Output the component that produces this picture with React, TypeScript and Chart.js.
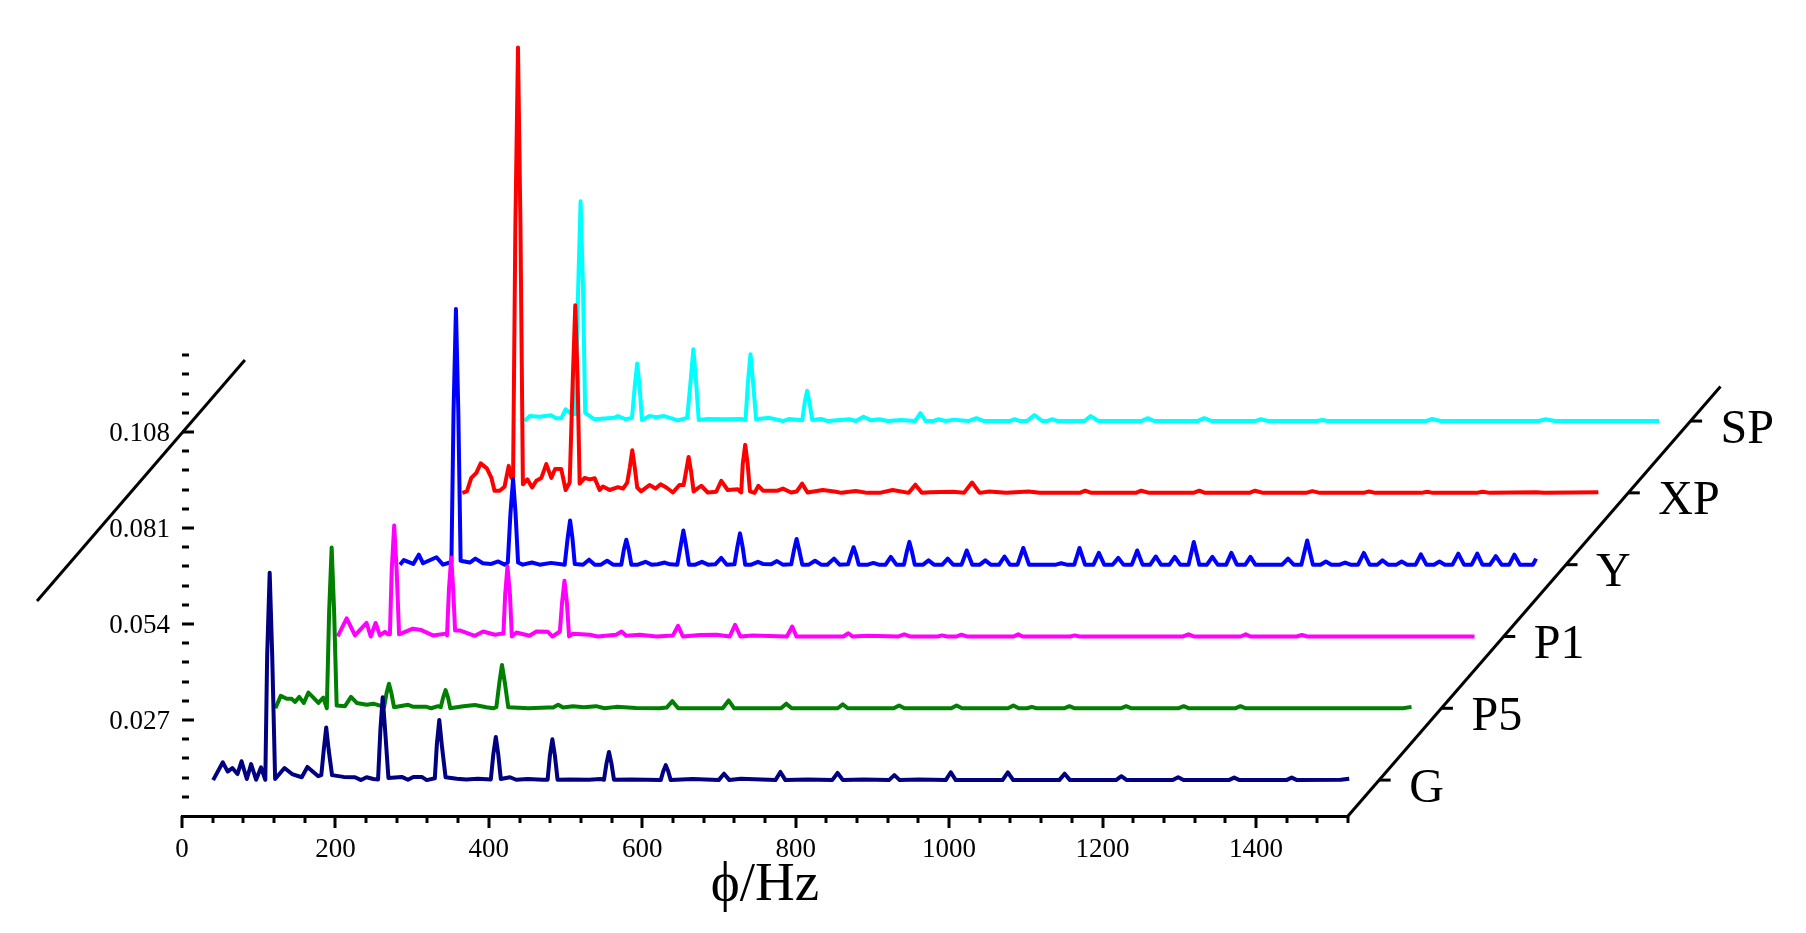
import { useEffect, useRef } from "react";
import { Chart, registerables } from "chart.js";

Chart.register(...registerables);

type P = [number, number];

const seriesNames = ["G", "P5", "P1", "Y", "XP", "SP"];
const seriesColors = ["#000080", "#008000", "#FF00FF", "#0000FF", "#FF0000", "#00FFFF"];

const G: P[] = [[0,0],[12.6,.005],[19,.0024],[25,.0034],[31.7,.0017],[37,.0053],[43.9,.0003],[49.5,.0045],[56,.0001],[62.5,.0036],[68,.0001],[70.4,.035],[73.7,.0583],[77,.035],[80.8,.0003],[93,.0034],[102.9,.0017],[115.5,.0008],[122.9,.0037],[137,.0011],[141,.0014],[144.2,.0085],[147.4,.0148],[150.6,.0085],[155,.0014],[169.9,.0009],[185,.0008],[192.8,0],[200,.0008],[208.9,.0003],[215,.0002],[218,.014],[221,.0233],[224.2,.014],[228.5,.0006],[245.8,.0009],[254,.0001],[261,.0009],[272,.0009],[278.4,0],[289,.0005],[291.6,.01],[294.8,.0169],[298,.01],[303,.0008],[317.6,.0004],[330,.0002],[345,.0004],[362,.0002],[365.2,.0072],[368.5,.0121],[371.7,.0072],[375,.0003],[387,.0008],[395,.0001],[410,.0003],[430,.0001],[436,.0001],[439,.0069],[442.2,.0115],[445.5,.0069],[449,.0001],[465,.0002],[490,.0001],[505,.0003],[509.5,.0001],[512.8,.0047],[516,.0079],[519.2,.0047],[522.5,.0001],[545,.0002],[565,.0001],[583.5,0],[586.8,.0025],[590,.0042],[593.2,.0025],[596.5,0],[625,.0003],[659,0],[666,.0018],[673,0],[688,.0004],[733,0],[739.5,.0023],[746,0],[775,.0002],[807,0],[814,.002],[821,0],[848,.0002],[881,0],[888,.0014],[895,0],[920,.0002],[955,0],[961.6,.0022],[968,0],[1029,0],[1036,.0022],[1043,0],[1103,0],[1110,.0018],[1117,0],[1177,0],[1184,.0011],[1191,0],[1251,0],[1258,.0008],[1265,0],[1324,0],[1331,.0007],[1338,0],[1399,0],[1406,.0007],[1413,0],[1470,.0001],[1481,.0004]];

const P5: P[] = [[0,0],[6.9,.0035],[14.7,.0027],[21,.0027],[25.7,.0018],[31,.0032],[37,.0015],[43,.0044],[49.5,.003],[56,.0015],[62.4,.003],[67,0],[70,.0272],[73.3,.0452],[76.5,.0272],[79.8,.0008],[90.7,.0006],[98.5,.0032],[106,.0015],[119,.001],[127.6,.0013],[138.5,.0006],[141.6,.0003],[144.8,.0042],[148,.0069],[151.2,.0042],[154.6,.0003],[173,.001],[179.6,.0004],[197,.0004],[203,0],[212,.0006],[215.5,.0003],[218.6,.003],[221.8,.0051],[225,.003],[228,0],[245,.0006],[260,.0009],[275,.0003],[284,0],[288,.0003],[292,.0073],[295.3,.0122],[299,.0073],[303.5,.0003],[330,0],[355,.0002],[362,.0002],[368.6,.001],[375,.0002],[388,.0006],[402,.0003],[418,.0006],[429,0],[444.5,.0004],[470,.0001],[501,0],[510,.0002],[517.5,.002],[525,0],[583,0],[590.8,.0022],[598,0],[659,0],[666,.0013],[673,0],[733,0],[739.6,.0011],[746,0],[806,0],[813,.0008],[820,0],[881,0],[888,.0008],[895,0],[955,0],[962,.0008],[969,0],[980,0],[986,.0004],[992,0],[1028,0],[1035,.0006],[1042,0],[1102,0],[1109,.0006],[1116,0],[1177,0],[1184,.0006],[1191,0],[1251,0],[1258,.0006],[1265,0],[1470,0],[1481,.0004]];

const P1: P[] = [[0,0],[11.7,.0051],[22.5,.0003],[37.6,.0038],[43,0],[49.4,.0038],[55,.0003],[61.5,.0013],[65.6,.0006],[68,.0006],[70.4,.0187],[73.6,.0312],[76.8,.0187],[80,.0006],[98,.0022],[109,.0018],[124,.0003],[141,.0008],[142.5,.0003],[145,.0133],[148,.0222],[150.5,.0133],[153,.0017],[159,.0017],[178.7,.0002],[189.6,.0014],[205,.0005],[213.5,.0008],[216,.0008],[218.3,.0118],[221.3,.0197],[224.5,.0118],[227,0],[233,.0011],[250,.0002],[259,.0014],[274,.0013],[280,0],[289.6,.0014],[292.4,.0094],[295.6,.0157],[298.8,.0094],[301.6,0],[306.8,.0008],[328.5,.0005],[339,0],[363,.0005],[370,.0014],[376,.0002],[393.7,.0005],[415.5,0],[437,.0003],[443.7,.003],[450,0],[471.8,.0004],[494,.0005],[511,0],[518,.0033],[525,0],[541,.0003],[585.5,0],[592.5,.0028],[598,0],[659,0],[665.7,.0009],[671,0],[691,.0002],[731,0],[738.5,.0006],[746,0],[782,0],[788,.0003],[794,0],[807,0],[813,.0005],[820,0],[881,0],[887,.0006],[893,0],[955,0],[960.6,.0003],[967,0],[1102,0],[1109,.0006],[1116,0],[1177,0],[1183.7,.0006],[1190,0],[1250,0],[1257,.0004],[1264,0],[1482,0]];

const Y: P[] = [[0,0],[5,.0013],[17.3,.0002],[24.5,.0028],[30,.0004],[47.5,.0021],[56,0],[65,.0006],[67,.0006],[69.8,.0431],[72.9,.0719],[76,.0431],[79,.0011],[91,.0006],[98.3,.0017],[108,.0004],[119,.0002],[128,.0009],[136.5,0],[140.5,.0006],[144,.0145],[147.4,.0241],[150.6,.0145],[153.9,.0006],[160,0],[172,.0006],[182,0],[197,.0005],[214.7,0],[218.5,.0074],[221.7,.0124],[224.8,.0074],[227.8,.0002],[238.6,0],[246.4,.0014],[253.8,0],[262,0],[270,.0011],[277.7,0],[288.5,0],[291.8,.0042],[295,.007],[298.2,.0042],[301.6,0],[310,0],[320,.0008],[327.7,0],[336,.0001],[345,.0006],[352,.0001],[361.5,0],[366.2,.0057],[369.4,.0096],[372.6,.0057],[376.7,0],[385,0],[393.6,.0008],[401.5,0],[411,.0001],[418.8,.0019],[426,0],[436,.0001],[440,.0053],[443.2,.0088],[446.4,.0053],[450,0],[458,0],[466.6,.0008],[473,.0002],[484,.0001],[491.4,.001],[499,0],[510,.0001],[513.8,.0043],[517,.0072],[520.2,.0043],[524.4,0],[533,0],[541,.0011],[549,0],[557,0],[565.7,.0017],[573,0],[584,.0001],[588.1,.0029],[591.3,.0049],[594.5,.0029],[598,0],[610,0],[617,.0005],[624,0],[633,0],[639.8,.0022],[647,0],[657,0],[660.8,.0038],[664,.0064],[667.2,.0038],[671,0],[682,0],[689,.0012],[696,0],[707,0],[714,.0017],[721,0],[732,0],[738.8,.004],[746,0],[756,0],[763,.0012],[770,0],[781,0],[788,.0023],[795,0],[805,0],[812.5,.0047],[820,0],[855,0],[862,.0004],[869,0],[879,0],[885.8,.0047],[893,0],[904,0],[911,.0033],[918,0],[929,0],[936.4,.0019],[943,0],[954,0],[961,.004],[968,0],[978,0],[985.3,.0023],[992,0],[1003,0],[1010,.0022],[1017,0],[1028,0],[1034.8,.0064],[1042,0],[1052,0],[1059,.0022],[1066,0],[1077,0],[1083.8,.0033],[1091,0],[1102,0],[1108.6,.0022],[1115,0],[1150,0],[1157.6,.0017],[1165,0],[1175,0],[1182.6,.0068],[1190,0],[1200,0],[1207,.0009],[1214,0],[1225,0],[1232,.0006],[1239,0],[1249,0],[1256.5,.0033],[1264,0],[1274,0],[1280.7,.0012],[1288,0],[1299,0],[1305.8,.0009],[1313,0],[1324,0],[1330.8,.0029],[1338,0],[1348,0],[1355,.0009],[1362,0],[1372,0],[1379.6,.0031],[1387,0],[1397,0],[1404.3,.0031],[1411,0],[1421,0],[1428.5,.0024],[1436,0],[1446,0],[1452.7,.0028],[1460,0],[1471,0],[1477,0],[1481,.0017]];

const XP: P[] = [[0,0],[6,.0004],[11.7,.0042],[18.3,.0056],[24,.0083],[32,.0069],[38,.0042],[42,.0006],[48.7,.0006],[55,.0017],[60.5,.0076],[64,.0042],[66.2,.0042],[69.2,.0752],[72.6,.1253],[75.8,.0752],[79,.0024],[84.8,.0038],[91,.0015],[96.5,.0034],[103,.0042],[109.5,.0081],[116,.0042],[121,.0067],[129,.0067],[134.7,.0008],[140,.0029],[144,.0317],[147.3,.0528],[150.3,.0317],[153,.0026],[159.5,.0042],[166,.0038],[172.6,.0041],[179,.0008],[183.4,.0018],[192,.0008],[203,.0016],[209.5,.0012],[215,.0029],[218.4,.0072],[221.6,.012],[224.8,.0072],[228,.0015],[233,.0004],[244,.0022],[252,.0012],[258.5,.0024],[266,.0015],[274.6,.0001],[283,.0022],[288.5,.0022],[291.8,.0061],[295,.0101],[298.2,.0061],[301.6,.0004],[311.5,.002],[320,.0001],[331,.0003],[337.6,.0034],[346,.0008],[359,.001],[363.6,.0001],[365.6,.0081],[368.8,.0135],[372,.0081],[375,.0004],[381,0],[386,.002],[392,.0006],[411,.0006],[418,.0012],[428.6,.0001],[436,.0004],[443,.0026],[450,.0001],[470,.0008],[487,.0003],[494,0],[513,.0005],[528,0],[544,0],[561,.0008],[582,0],[590.6,.0023],[599,0],[610,.0002],[639.6,.0003],[654,0],[664.5,.0029],[674.4,0],[687,.0004],[709,0],[738,.0004],[752.8,0],[805,0],[812,.0006],[820,0],[878,0],[885,.0006],[895.6,0],[953,0],[960.8,.0006],[968,0],[1026,0],[1033.4,.0006],[1044,0],[1100,0],[1108,.0005],[1118,0],[1175,0],[1182,.0004],[1190,0],[1250,0],[1258,.0003],[1265,0],[1322,0],[1330,.0003],[1340,0],[1400,.0002],[1410,0],[1481,.0002]];

const SP: P[] = [[0,0],[6.6,.0014],[19.7,.0012],[34.7,.0016],[41,.0008],[48,.0008],[53.5,.0033],[62,.0019],[66.5,.0019],[69.8,.0371],[73,.0618],[76.2,.0371],[79,.0023],[91,.0005],[117,.0009],[121.6,.0014],[132,.0005],[140,.0009],[143.6,.0097],[146.8,.0162],[150,.0097],[153,.0003],[163,.0014],[171.6,.0011],[182,.0014],[199.8,.0002],[212,.0009],[216.8,.0121],[220,.0202],[223.2,.0121],[227,.0003],[238.8,.0006],[262.7,.0005],[282,.0006],[288,.0003],[291.3,.0113],[294.5,.0188],[297.7,.0113],[301.8,.0005],[319,.0009],[336.6,0],[345,.0006],[362,.0002],[365.1,.0051],[368.3,.0085],[371.5,.0051],[375,.0003],[386.6,.0006],[395,0],[423.5,.0005],[432,0],[441.8,.0012],[451.7,.0002],[462.6,.0005],[473.7,0],[491,.0003],[509,0],[516,.0022],[523,0],[532,0],[539.5,.0005],[549,0],[559.5,.0004],[578,0],[589,.0008],[599,0],[632,0],[639,.0005],[646,0],[655,0],[664.6,.0017],[675,0],[681,0],[688,.0005],[695,0],[730,0],[738,.0014],[748,0],[804,0],[812,.0008],[821,0],[877,0],[886,.0008],[896,0],[952,0],[960,.0005],[969,0],[1033,0],[1040,.0003],[1047,0],[1175,0],[1183,.0006],[1194,0],[1322,0],[1331,.0005],[1343,0],[1479,0]];

const seriesData: P[][] = [G, P5, P1, Y, XP, SP];

const xMax = 1520;
const xStep = 40;
const xLabelStep = 200;
const xLabelMax = 1400;
const yMax = 0.22954;
const yStep = 0.0054;
const yTickMax = 0.1296;
const yLabelEvery = 5;
const depthStepX = 81.2;
const depthStepY = 0.0202;
const depthLevels = 5.98;
const depthTickLength = 15;
const leftWall: P[] = [[-189, 0.0605], [82, 0.1283]];

const SERIF = '"Liberation Serif", serif';

const axisMarks = {
  id: "axisMarks",
  afterDatasetsDraw(chart: any) {
    const { ctx, scales } = chart;
    const { x, y } = scales;
    ctx.save();
    ctx.strokeStyle = "#000";
    ctx.lineWidth = 3;
    ctx.lineCap = "butt";
    for (const t of x.ticks) {
      const px = Math.round(x.getPixelForValue(t.value));
      const len = t.value % xLabelStep === 0 ? 12 : 7;
      ctx.beginPath();
      ctx.moveTo(px, y.bottom);
      ctx.lineTo(px, y.bottom + len);
      ctx.stroke();
    }
    for (const t of y.ticks) {
      const py = Math.round(y.getPixelForValue(t.value));
      const major = Math.round(t.value / yStep) % yLabelEvery === 0;
      ctx.beginPath();
      ctx.moveTo(x.left, py);
      ctx.lineTo(x.left + (major ? 12 : 7), py);
      ctx.stroke();
    }
    ctx.fillStyle = "#000";
    ctx.font = `48px ${SERIF}`;
    ctx.textAlign = "left";
    ctx.textBaseline = "middle";
    seriesNames.forEach((name, i) => {
      const z = i + 0.5;
      ctx.fillText(
        name,
        x.getPixelForValue(xMax + z * depthStepX) + 30,
        y.getPixelForValue(z * depthStepY) + 9
      );
    });
    ctx.restore();
  },
};

export default function App() {
  const ref = useRef<HTMLCanvasElement>(null);
  useEffect(() => {
    document.body.style.margin = "0";
    document.body.style.background = "#fff";
    const line = (data: any[], color: string, label: string, width = 4) => ({
      label,
      data,
      borderColor: color,
      borderWidth: width,
      pointRadius: 0,
      tension: 0,
      clip: false as const,
      fill: false,
      borderJoinStyle: "round" as const,
    });
    const traces = seriesData.map((pts, i) => {
      const z = i + 0.5;
      return line(
        pts.map(([f, a]) => ({ x: f + z * depthStepX, y: a + z * depthStepY })),
        seriesColors[i],
        seriesNames[i]
      );
    });
    const depthAxis = line(
      [
        { x: xMax, y: 0 },
        { x: xMax + depthLevels * depthStepX, y: depthLevels * depthStepY },
      ],
      "#000",
      "depth axis",
      3
    );
    const depthTicks = seriesNames.map((name, i) => {
      const z = i + 0.5;
      return line(
        [
          { x: xMax + z * depthStepX, y: z * depthStepY },
          { x: xMax + z * depthStepX + depthTickLength, y: z * depthStepY },
        ],
        "#000",
        name + " tick",
        3
      );
    });
    const wall = line(
      leftWall.map(([x, y]) => ({ x, y })),
      "#000",
      "wall",
      3
    );
    const chart = new Chart(ref.current!, {
      type: "line",
      data: { datasets: [...traces, depthAxis, ...depthTicks, wall] as any },
      plugins: [axisMarks],
      options: {
        responsive: false,
        animation: false,
        layout: { padding: { right: 458, top: 0, left: 0, bottom: 0 } },
        plugins: { legend: { display: false }, tooltip: { enabled: false }, title: { display: false } },
        scales: {
          x: {
            type: "linear",
            bounds: "data",
            afterDataLimits(s: any) {
              s.min = 0;
              s.max = xMax;
            },
            afterFit(s: any) {
              s.height = 933 - 816;
              s.paddingLeft = 0;
              s.paddingRight = 0;
            },
            ticks: {
              stepSize: xStep,
              autoSkip: false,
              maxRotation: 0,
              padding: 18,
              color: "#000",
              font: { family: SERIF, size: 27 },
              callback: (v: any) =>
                v % xLabelStep === 0 && v <= xLabelMax ? String(v) : "",
            },
            grid: { display: false, drawTicks: false },
            border: { display: true, color: "#000", width: 3 },
            title: {
              display: true,
              text: "\u03D5/Hz",
              color: "#000",
              font: { family: SERIF, size: 55 },
              padding: { top: 0, bottom: 14 },
            },
          },
          y: {
            type: "linear",
            min: 0,
            max: yMax,
            afterBuildTicks(s: any) {
              s.ticks = s.ticks.filter((t: any) => t.value > 0 && t.value <= yTickMax + 1e-9);
            },
            afterFit(s: any) {
              s.width = 182;
              s.paddingTop = 0;
              s.paddingBottom = 0;
            },
            ticks: {
              stepSize: yStep,
              autoSkip: false,
              padding: 12,
              labelOffset: 2,
              color: "#000",
              font: { family: SERIF, size: 27 },
              callback: (v: any) =>
                Math.round(v / yStep) % yLabelEvery === 0 ? Number(v).toFixed(3) : "",
            },
            grid: { display: false, drawTicks: false },
            border: { display: false },
          },
        },
      } as any,
    });
    return () => chart.destroy();
  }, []);
  return (
    <canvas
      ref={ref}
      width={1806}
      height={933}
      style={{ display: "block", position: "absolute", left: 0, top: 0 }}
    />
  );
}
